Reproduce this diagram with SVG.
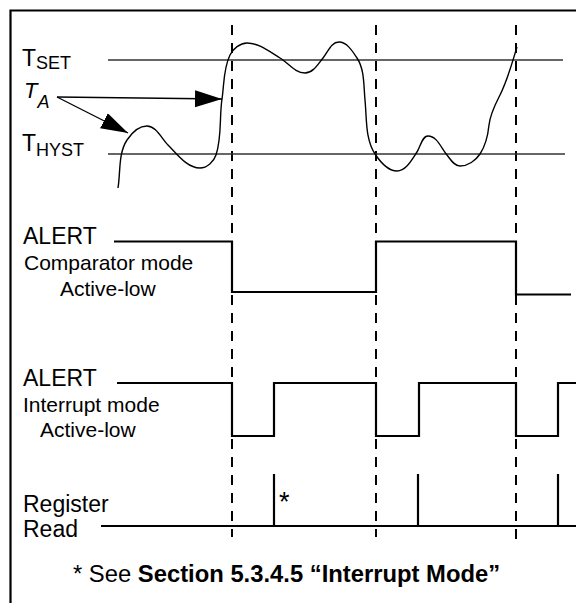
<svg xmlns="http://www.w3.org/2000/svg" width="576" height="603" viewBox="0 0 576 603">
<defs>
<style>
text{font-family:"Liberation Sans",Arial,sans-serif;fill:#000}
.frame{fill:none;stroke:#000;stroke-width:2.2}
.dash{fill:none;stroke:#000;stroke-width:2;stroke-dasharray:10 8}
.thr{fill:none;stroke:#333;stroke-width:1.5}
.sig{fill:none;stroke:#000;stroke-width:2.2}
.curve{fill:none;stroke:#000;stroke-width:1.4}
.arr{fill:none;stroke:#000;stroke-width:1.3}
.lbl{font-size:23px}
.mode{font-size:21px}
</style>
<marker id="ah" markerUnits="userSpaceOnUse" markerWidth="28" markerHeight="18" refX="27" refY="8.5" orient="auto">
<path d="M0,0 L27,8.5 L0,17 z" fill="#000"/>
</marker>
</defs>
<g id="frame">
<path class="frame" d="M10.5,603 L10.5,10.5 L576,10.5"/>
</g>
<g id="markers">
<line class="dash" x1="232" y1="25" x2="232" y2="537"/>
<line class="dash" x1="376" y1="25" x2="376" y2="537"/>
<line class="dash" x1="516" y1="25" x2="516" y2="542"/>
</g>
<g id="thresholds">
<line class="thr" x1="108" y1="60" x2="563" y2="60"/>
<line class="thr" x1="108" y1="154" x2="565" y2="154"/>
<text x="22" y="66" style="font-size:23px">T<tspan dy="3" style="font-size:18px">SET</tspan></text>
<text x="22" y="151" style="font-size:23px">T<tspan dy="5" style="font-size:18px">HYST</tspan></text>
<text x="24" y="98" style="font-size:22px;font-style:italic">T<tspan dy="10" style="font-size:18px">A</tspan></text>
</g>
<g id="temperature">
<path class="curve" d="M118,188 C120.6,172.2 118.2,153.3 127,140 C131.4,133.4 139,126 147,126 C156,126 161.6,138.6 168,145 C177.2,154.2 187,168 200,168 C207,168 213.8,161.6 216,155 C222,137 219.2,117.8 222,99 C224.2,84.2 223.3,68.4 230,55 C233.1,48.8 240,43 247,43 C259,43 269.7,51.9 280,58 C288.6,63.1 295,73 305,73 C313,73 317.9,64.2 323,58 C328.1,51.8 331,42 339,42 C347,42 352.6,51.4 357,58 C364.7,69.6 363.6,86 365,100 C366.8,118 365.1,139 375,154 C380,161.5 388,171 397,171 C406,171 412,159.5 417,152 C420.3,147 422,136 428,136 C437,136 441.2,148.1 447,155 C450.8,159.6 454,166 460,166 C468,166 475.6,160.6 480,154 C485.5,145.7 488,135 489,125 C490.1,114 495,104.8 500,95 C507.6,79.9 512,63 517,47"/>
</g>
<g id="connectors">
<line class="arr" x1="57" y1="97" x2="222" y2="99" marker-end="url(#ah)"/>
<line class="arr" x1="57" y1="97" x2="128" y2="133" marker-end="url(#ah)"/>
</g>
<g id="comparator">
<text class="lbl" x="23" y="244">ALERT</text>
<text class="mode" x="24" y="270">Comparator mode</text>
<text class="mode" x="60" y="296">Active-low</text>
<polyline class="sig" points="114,241.5 232,241.5 232,292 376,292 376,241.5 516,241.5 516,294.5 571,294.5"/>
</g>
<g id="interrupt">
<text class="lbl" x="23" y="386">ALERT</text>
<text class="mode" x="23" y="412">Interrupt mode</text>
<text class="mode" x="40" y="437">Active-low</text>
<polyline class="sig" points="117,383 232,383 232,436 274,436 274,383 376,383 376,436 419,436 419,383 516,383 516,436 558,436 558,383 576,383"/>
</g>
<g id="register">
<text class="lbl" x="23" y="512">Register</text>
<text class="lbl" x="23" y="537">Read</text>
<line class="sig" x1="101" y1="526" x2="576" y2="526"/>
<line class="sig" x1="274" y1="474" x2="274" y2="526"/>
<line class="sig" x1="418" y1="474" x2="418" y2="526"/>
<line class="sig" x1="558" y1="474" x2="558" y2="526"/>
<text x="279" y="511" style="font-size:27px">*</text>
</g>
<g id="footnote">
<text x="73" y="582" style="font-size:23.8px">* See <tspan font-weight="bold">Section 5.3.4.5 “Interrupt Mode”</tspan></text>
</g>
</svg>
